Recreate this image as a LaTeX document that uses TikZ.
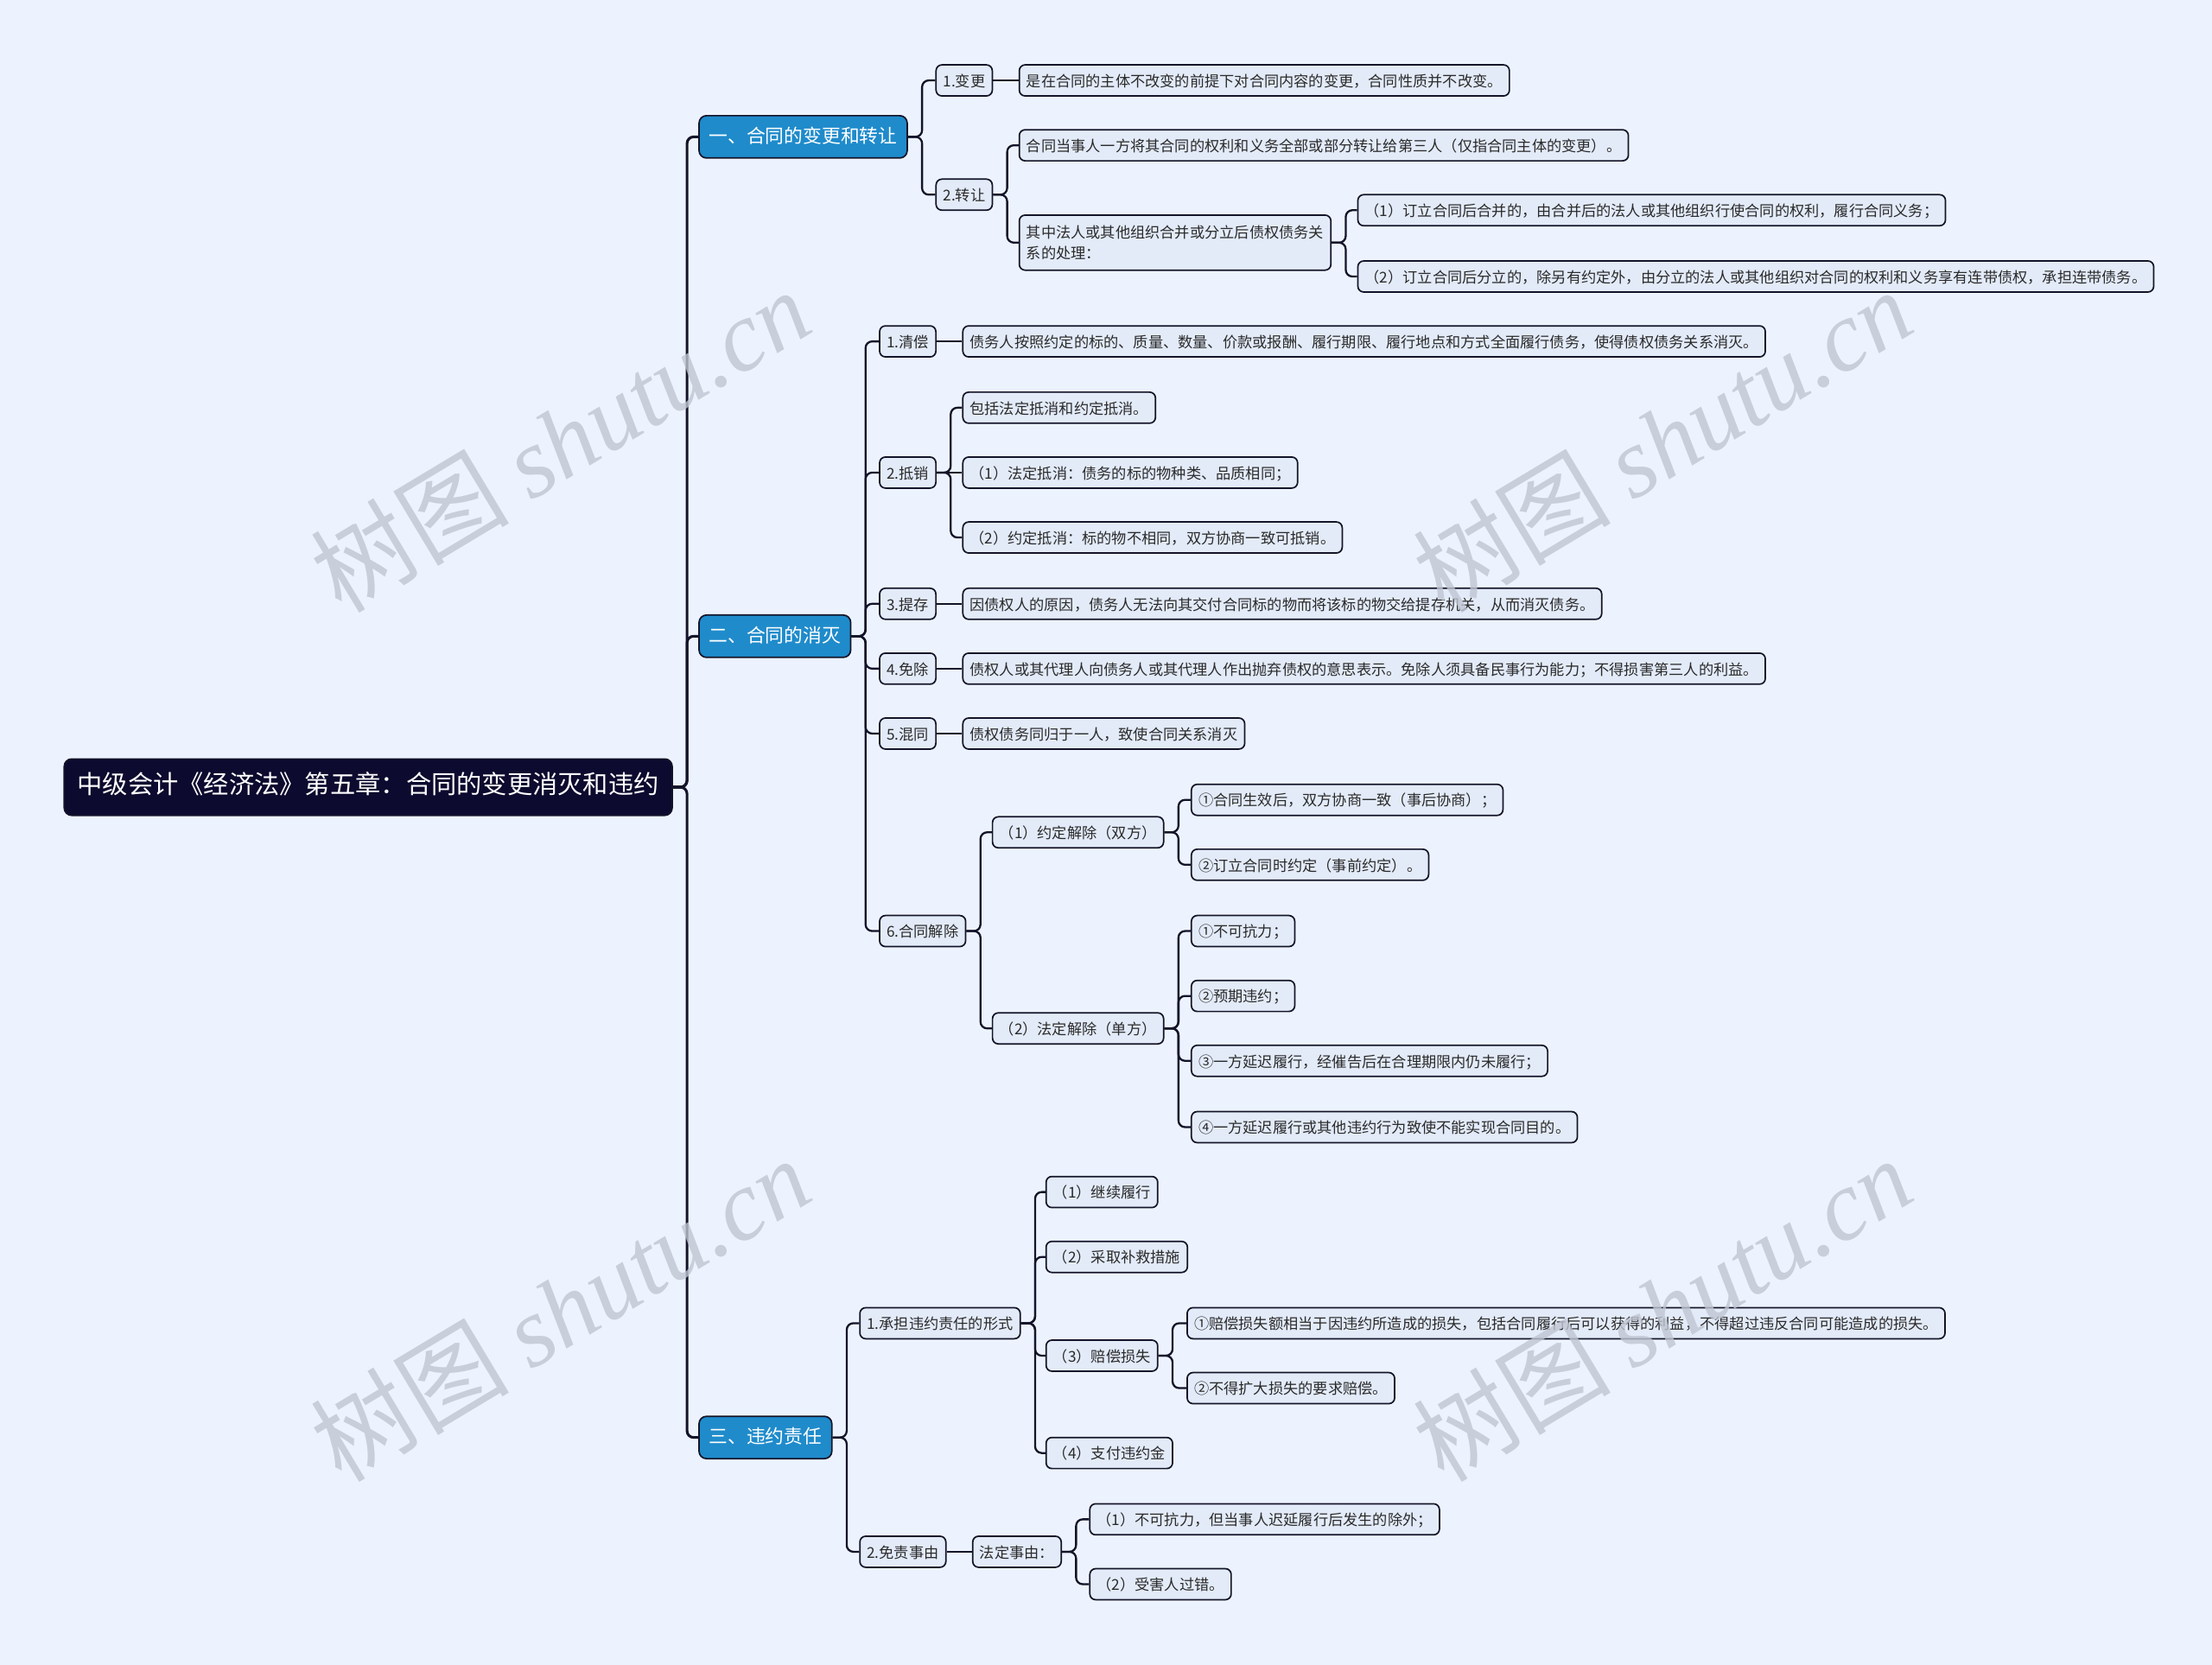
\documentclass[tikz,border=0pt]{standalone}
\usepackage{fontspec}
\setmainfont{Noto Sans CJK SC}
\newfontfamily\wmserif{Liberation Serif}
\usetikzlibrary{positioning}
\definecolor{bgblue}{HTML}{EDF3FE}
\definecolor{navy}{HTML}{0C0A2E}
\definecolor{topicblue}{HTML}{1F8BCB}
\definecolor{leaffill}{HTML}{E3EBF9}
\definecolor{edgeline}{HTML}{141429}
\definecolor{txt}{HTML}{2A2A2A}
\definecolor{wmgray}{HTML}{BFC5D1}
\tikzset{
  blk0/.style={draw=edgeline, line width=.9pt, rounded corners=3.5pt, fill=leaffill, text=txt, anchor=west, inner xsep=.15cm, inner ysep=1pt, minimum height=.66cm, font=\fontsize{9}{12.5}\selectfont, align=left},
  blk/.style={blk0, text height=.88em, text depth=.12em},
  topic/.style={blk, fill=topicblue, text=white, minimum height=.9cm, inner xsep=.21cm, rounded corners=4.5pt, font=\fontsize{11.4}{14}\selectfont},
  rootbox/.style={blk, fill=navy, text=white, minimum height=1.2cm, inner xsep=.28cm, rounded corners=4.5pt, font=\fontsize{15.3}{18}\selectfont},
  ln/.style={draw=edgeline, line width=1.2pt, rounded corners=4pt},
  trunk/.style={ln, line width=1.6pt},
  wm/.style={text=wmgray, text opacity=.8, rotate=31, font=\fontsize{60}{60}\selectfont},
}

\begin{document}
\begin{tikzpicture}[x=0.03cm, y=-0.03cm]
  \fill[bgblue] (0,0) rectangle (1568,1180);
  \useasboundingbox (0,0) rectangle (1568,1180);

  % root and main topics
  \node[rootbox] (root) at (45,558) {中级会计《经济法》第五章：合同的变更消灭和违约};
  \node[topic] (t1) at (495,97) {一、合同的变更和转让};
  \node[topic] (t2) at (495,451) {二、合同的消灭};
  \node[topic] (t3) at (495,1019) {三、违约责任};

  % 一
  \node[blk] (a1) at (663,57) {1.变更};
  \node[blk] (a1d) at (722,57) {是在合同的主体不改变的前提下对合同内容的变更，合同性质并不改变。};
  \node[blk] (a2) at (663,138) {2.转让};
  \node[blk] (a2a) at (722,103) {合同当事人一方将其合同的权利和义务全部或部分转让给第三人（仅指合同主体的变更）。};
  \node[blk0, minimum height=1.17cm] (a2b) at (722,172) {其中法人或其他组织合并或分立后债权债务关\\系的处理：};
  \node[blk] (a2b1) at (962,149) {（1）订立合同后合并的，由合并后的法人或其他组织行使合同的权利，履行合同义务；};
  \node[blk] (a2b2) at (962,196) {（2）订立合同后分立的，除另有约定外，由分立的法人或其他组织对合同的权利和义务享有连带债权，承担连带债务。};

  % 二
  \node[blk] (b1) at (623,242) {1.清偿};
  \node[blk] (b1d) at (682,242) {债务人按照约定的标的、质量、数量、价款或报酬、履行期限、履行地点和方式全面履行债务，使得债权债务关系消灭。};
  \node[blk] (b2) at (623,335) {2.抵销};
  \node[blk] (b2a) at (682,289) {包括法定抵消和约定抵消。};
  \node[blk] (b2b) at (682,335) {（1）法定抵消：债务的标的物种类、品质相同；};
  \node[blk] (b2c) at (682,381) {（2）约定抵消：标的物不相同，双方协商一致可抵销。};
  \node[blk] (b3) at (623,428) {3.提存};
  \node[blk] (b3d) at (682,428) {因债权人的原因，债务人无法向其交付合同标的物而将该标的物交给提存机关，从而消灭债务。};
  \node[blk] (b4) at (623,474) {4.免除};
  \node[blk] (b4d) at (682,474) {债权人或其代理人向债务人或其代理人作出抛弃债权的意思表示。免除人须具备民事行为能力；不得损害第三人的利益。};
  \node[blk] (b5) at (623,520) {5.混同};
  \node[blk] (b5d) at (682,520) {债权债务同归于一人，致使合同关系消灭};
  \node[blk] (b6) at (623,660) {6.合同解除};
  \node[blk] (b6a) at (703,590) {（1）约定解除（双方）};
  \node[blk] (b6a1) at (844,567) {①合同生效后，双方协商一致（事后协商）；};
  \node[blk] (b6a2) at (844,613) {②订立合同时约定（事前约定）。};
  \node[blk] (b6b) at (703,729) {（2）法定解除（单方）};
  \node[blk] (b6b1) at (844,660) {①不可抗力；};
  \node[blk] (b6b2) at (844,706) {②预期违约；};
  \node[blk] (b6b3) at (844,752) {③一方延迟履行，经催告后在合理期限内仍未履行；};
  \node[blk] (b6b4) at (844,799) {④一方延迟履行或其他违约行为致使不能实现合同目的。};

  % 三
  \node[blk] (c1) at (609,938) {1.承担违约责任的形式};
  \node[blk] (c1a) at (741,845) {（1）继续履行};
  \node[blk] (c1b) at (741,891) {（2）采取补救措施};
  \node[blk] (c1c) at (741,961) {（3）赔偿损失};
  \node[blk] (c1c1) at (841,938) {①赔偿损失额相当于因违约所造成的损失，包括合同履行后可以获得的利益，不得超过违反合同可能造成的损失。};
  \node[blk] (c1c2) at (841,984) {②不得扩大损失的要求赔偿。};
  \node[blk] (c1d) at (741,1030) {（4）支付违约金};
  \node[blk] (c2) at (609,1100) {2.免责事由};
  \node[blk] (c2a) at (689,1100) {法定事由：};
  \node[blk] (c2a1) at (772,1077) {（1）不可抗力，但当事人迟延履行后发生的除外；};
  \node[blk] (c2a2) at (772,1123) {（2）受害人过错。};

  % connectors
  \foreach \c in {t1,t2,t3}
    \draw[trunk] (root.east) -- ++(10,0) |- (\c.west);
  \foreach \p/\c in {t1/a1,t1/a2,a2/a2a,a2/a2b,a2b/a2b1,a2b/a2b2,
      t2/b1,t2/b2,t2/b3,t2/b4,t2/b5,t2/b6,b2/b2a,b2/b2c,
      b6/b6a,b6/b6b,b6a/b6a1,b6a/b6a2,b6b/b6b1,b6b/b6b2,b6b/b6b3,b6b/b6b4,
      t3/c1,t3/c2,c1/c1a,c1/c1b,c1/c1c,c1/c1d,c1c/c1c1,c1c/c1c2,c2a/c2a1,c2a/c2a2}
    \draw[ln] (\p.east) -- ++(10,0) |- (\c.west);
  % straight ones (same height)
  \foreach \p/\c in {a1/a1d,b1/b1d,b2/b2b,b3/b3d,b4/b4d,b5/b5d,c2/c2a}
    \draw[ln] (\p.east) -- (\c.west);

  % watermark
  \foreach \x/\y in {397/312,1178/312,397/928,1178/928}
    \node[wm] at (\x,\y) {树图 {\wmserif\itshape shutu.cn}};
\end{tikzpicture}
\end{document}
